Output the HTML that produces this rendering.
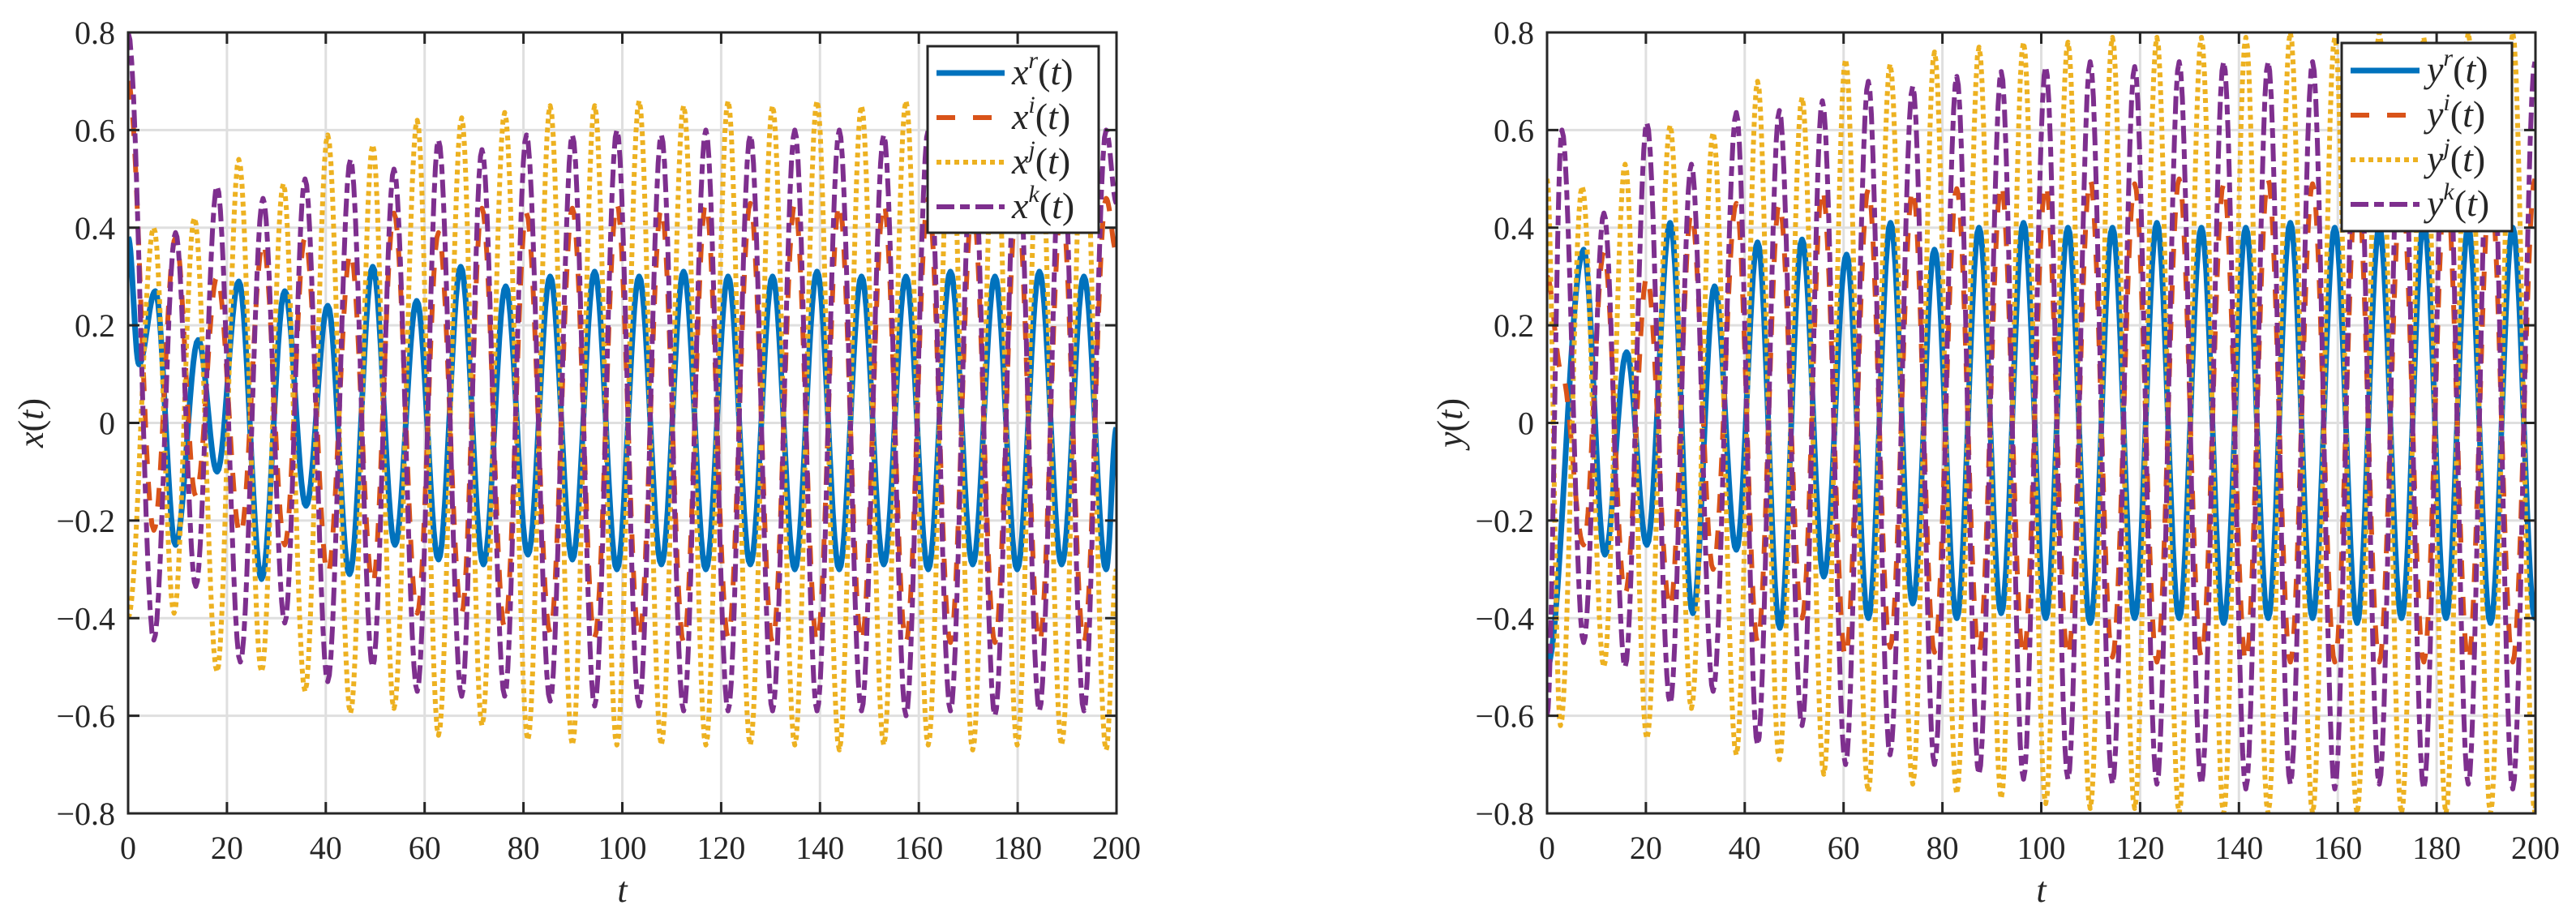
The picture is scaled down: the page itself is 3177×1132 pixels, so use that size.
<!DOCTYPE html>
<html><head><meta charset="utf-8"><style>
html,body{margin:0;padding:0;background:#fff}
svg{display:block}
text{font-family:"Liberation Serif",serif;fill:#262626}
</style></head><body>
<svg id="chart" width="3177" height="1132" viewBox="0 0 3177 1132" xmlns="http://www.w3.org/2000/svg"></svg>
<script>
// ---- data (extrema) ----
const xTicks = [0,20,40,60,80,100,120,140,160,180,200];
const yTicks = [-0.8,-0.6,-0.4,-0.2,0,0.2,0.4,0.6,0.8];
const yTickLabels = ["\u22120.8","\u22120.6","\u22120.4","\u22120.2","0","0.2","0.4","0.6","0.8"];

const xrT = [0,2.2,5.5,9.6,14.2,18,22.4,27,31.7,36,40.4,44.8,49.5,54,58.4,62.8,67.3,71.9,76.4,80.9,85.4,89.9,94.4,98.9,103.4,107.9,112.4,116.9,121.4,125.9,130.4,134.9,139.4,143.9,148.4,152.9,157.4,161.9,166.4,170.9,175.4,179.9,184.4,188.9,193.4,197.9,200];
const xrV = [0.38,0.12,0.27,-0.25,0.17,-0.10,0.29,-0.32,0.27,-0.17,0.24,-0.31,0.32,-0.25,0.25,-0.28,0.32,-0.29,0.28,-0.27,0.30,-0.28,0.31,-0.30,0.30,-0.29,0.31,-0.30,0.30,-0.29,0.30,-0.30,0.31,-0.30,0.30,-0.29,0.30,-0.30,0.31,-0.29,0.30,-0.30,0.31,-0.29,0.30,-0.30,-0.01];
const xkT = [0,5.2,9.6,13.7,18,22.7,27.3,31.7,35.8,40.4,45,49.5,53.8,58.5,62.8,67.5,71.6,76.2,80.6,85.4,89.9,94.4,98.9,103.4,107.9,112.4,116.9,121.4,125.9,130.4,134.9,139.4,143.9,148.4,152.9,157.4,161.9,166.4,170.9,175.4,179.9,184.4,188.9,193.4,197.9,200];
const xkV = [0.80,-0.445,0.39,-0.335,0.485,-0.49,0.46,-0.41,0.50,-0.53,0.54,-0.50,0.52,-0.55,0.58,-0.56,0.56,-0.56,0.59,-0.57,0.59,-0.58,0.60,-0.58,0.59,-0.59,0.60,-0.59,0.59,-0.59,0.60,-0.59,0.60,-0.59,0.59,-0.60,0.60,-0.59,0.59,-0.60,0.60,-0.59,0.60,-0.59,0.60,0.45];
const xiV = [0.70,-0.22,0.38,-0.15,0.30,-0.23,0.37,-0.25,0.38,-0.31,0.35,-0.33,0.43,-0.39,0.39,-0.39,0.44,-0.42,0.43,-0.43,0.44,-0.44,0.45,-0.44,0.44,-0.45,0.45,-0.44,0.45,-0.45,0.45,-0.45,0.45,-0.45,0.45,-0.45,0.46,-0.45,0.45,-0.45,0.46,-0.45,0.45,-0.45,0.46,0.35];
const xjT = [0,5.2,9.3,13.4,18,22.4,27,31.4,35.8,40.4,45,49.5,53.8,58.5,62.8,67.5,71.6,76.2,80.9,85.4,89.9,94.4,98.9,103.4,107.9,112.4,116.9,121.4,125.9,130.4,134.9,139.4,143.9,148.4,152.9,157.4,161.9,166.4,170.9,175.4,179.9,184.4,188.9,193.4,197.9,200];
const xjV = [-0.40,0.40,-0.39,0.42,-0.51,0.54,-0.51,0.49,-0.55,0.59,-0.595,0.57,-0.585,0.62,-0.64,0.625,-0.62,0.636,-0.65,0.65,-0.66,0.65,-0.66,0.66,-0.66,0.65,-0.66,0.66,-0.66,0.65,-0.66,0.66,-0.67,0.65,-0.66,0.66,-0.66,0.65,-0.67,0.66,-0.66,0.65,-0.66,0.66,-0.67,-0.30];

const yrT = [0,7.4,11.7,16.1,20.2,24.9,29.5,33.9,38.3,42.6,47.1,51.6,56,60.6,65,69.5,74,78.4,82.9,87.4,91.9,96.4,100.9,105.4,109.9,114.4,118.9,123.4,127.9,132.4,136.9,141.4,145.9,150.4,154.9,159.4,163.9,168.4,172.9,177.4,181.9,186.4,190.9,195.4,199.9,200];
const yrV = [-0.50,0.355,-0.27,0.145,-0.25,0.41,-0.39,0.28,-0.26,0.37,-0.42,0.376,-0.315,0.345,-0.40,0.41,-0.37,0.355,-0.40,0.40,-0.39,0.41,-0.40,0.40,-0.41,0.40,-0.40,0.41,-0.40,0.40,-0.41,0.40,-0.40,0.41,-0.40,0.40,-0.41,0.40,-0.40,0.41,-0.40,0.40,-0.41,0.40,-0.40,-0.40];
const ykT = [0,3,7.4,11.5,15.8,20.2,24.9,29.2,33.6,38.3,42.6,47,51.6,55.7,60.4,65,69.4,74,78.4,82.9,87.4,91.9,96.4,100.9,105.4,109.9,114.4,118.9,123.4,127.9,132.4,136.9,141.4,145.9,150.4,154.9,159.4,163.9,168.4,172.9,177.4,181.9,186.4,190.9,195.4,199.9];
const ykV = [-0.60,0.60,-0.45,0.43,-0.50,0.615,-0.575,0.53,-0.55,0.636,-0.66,0.64,-0.62,0.66,-0.70,0.70,-0.68,0.69,-0.70,0.71,-0.72,0.72,-0.73,0.73,-0.73,0.74,-0.74,0.73,-0.74,0.74,-0.74,0.74,-0.75,0.74,-0.74,0.74,-0.75,0.74,-0.74,0.75,-0.75,0.74,-0.74,0.74,-0.75,0.74];
const yiV = [0.30,0.10,-0.25,0.35,-0.35,0.30,-0.38,0.43,-0.30,0.45,-0.45,0.45,-0.40,0.48,-0.48,0.48,-0.46,0.48,-0.47,0.48,-0.47,0.49,-0.48,0.49,-0.48,0.50,-0.48,0.49,-0.49,0.50,-0.48,0.49,-0.49,0.50,-0.49,0.49,-0.49,0.50,-0.49,0.49,-0.49,0.50,-0.49,0.49,-0.49,0.50];
const yjT = [0,2.7,7.1,11.5,15.8,20.2,24.9,29.2,33.6,38.3,42.6,47,51.6,56,60.4,65,69.4,74,78.4,82.9,87.4,91.9,96.4,100.9,105.4,109.9,114.4,118.9,123.4,127.9,132.4,136.9,141.4,145.9,150.4,154.9,159.4,163.9,168.4,172.9,177.4,181.9,186.4,190.9,195.4,199.9,200];
const yjV = [0.50,-0.62,0.485,-0.50,0.53,-0.647,0.61,-0.585,0.595,-0.68,0.70,-0.69,0.667,-0.72,0.745,-0.756,0.735,-0.74,0.76,-0.76,0.77,-0.77,0.78,-0.78,0.78,-0.79,0.79,-0.79,0.79,-0.80,0.79,-0.80,0.79,-0.80,0.80,-0.80,0.79,-0.80,0.80,-0.80,0.79,-0.80,0.80,-0.80,0.80,-0.80,-0.78];

// ---- rendering ----
const NS = "http://www.w3.org/2000/svg";
const svg = document.getElementById('chart');
function mk(tag, attrs, parent){const e=document.createElementNS(NS,tag);for(const k in attrs)e.setAttribute(k,attrs[k]);(parent||svg).appendChild(e);return e;}

const COLORS = {r:"#0072BD", i:"#D95319", j:"#EDB120", k:"#7E2F8E"};
const DASH = {r:"", i:"23,22", j:"6,5", k:"22,7,12,7"};
const WIDTH = {r:7, i:6, j:6, k:6};

function drawPlot(id, x0, x1, y0, y1, series, letter, legendBox, legendLineX, legendText, legendYs){
  const xs = t => x0 + (t-0)/(200-0)*(x1-x0);
  const ys = v => y1 - (v+0.8)/1.6*(y1-y0);
  const g = mk('g', {});
  
  
  const clipId = id+'-clip';
  const cp = mk('clipPath', {id:clipId}, g);
  mk('rect', {x:x0, y:y0, width:x1-x0, height:y1-y0}, cp);
  // grid
  xTicks.forEach(t => {
    const l = mk('line', {x1:xs(t), x2:xs(t), y1:y0, y2:y1, stroke:'#dfdfdf', 'stroke-width':3}, g);
    
    
  });
  yTicks.forEach(v => {
    const l = mk('line', {x1:x0, x2:x1, y1:ys(v), y2:ys(v), stroke:'#dfdfdf', 'stroke-width':3}, g);
    
    
  });
  // series
  const sg = mk('g', {'clip-path':'url(#'+clipId+')'}, g);
  series.forEach(s => {
    let d = '';
    for (let n=0; n<s.t.length-1; n++){
      const ta=s.t[n], tb=s.t[n+1], va=s.v[n], vb=s.v[n+1];
      const steps = 14;
      for (let k=(n===0?0:1); k<=steps; k++){
        const f = k/steps;
        const w = (1-Math.cos(Math.PI*f))/2;
        const t = ta + (tb-ta)*f, v = va + (vb-va)*w;
        d += (d===''?'M':'L') + xs(t).toFixed(1) + ',' + ys(v).toFixed(1);
      }
    }
    const p = mk('path', {d:d, fill:'none', stroke:COLORS[s.key], 'stroke-width':WIDTH[s.key], 'stroke-dasharray':DASH[s.key]||'none', 'stroke-linejoin':'round'}, sg);
    
    
  });
  // axes box
  const box = mk('rect', {x:x0, y:y0, width:x1-x0, height:y1-y0, fill:'none', stroke:'#262626', 'stroke-width':3}, g);
  
  
  // ticks & labels
  xTicks.forEach(t => {
    mk('line', {x1:xs(t), x2:xs(t), y1:y1, y2:y1-14, stroke:'#262626', 'stroke-width':3}, g);
    mk('line', {x1:xs(t), x2:xs(t), y1:y0, y2:y0+14, stroke:'#262626', 'stroke-width':3}, g);
    const tx = mk('text', {x:xs(t), y:y1+56, 'font-size':40, 'text-anchor':'middle'}, g);
    tx.textContent = t;
    
    
  });
  yTicks.forEach((v,i) => {
    mk('line', {x1:x0, x2:x0+14, y1:ys(v), y2:ys(v), stroke:'#262626', 'stroke-width':3}, g);
    mk('line', {x1:x1, x2:x1-14, y1:ys(v), y2:ys(v), stroke:'#262626', 'stroke-width':3}, g);
    const tx = mk('text', {x:x0-16, y:ys(v)+14, 'font-size':40, 'text-anchor':'end'}, g);
    tx.textContent = yTickLabels[i];
    
    
  });
  // axis titles
  const xt = mk('text', {x:(x0+x1)/2, y:1112, 'font-size':44, 'font-style':'italic', 'text-anchor':'middle'}, g);
  xt.textContent = 't';
  
  
  const yt = mk('text', {x:0, y:0, 'font-size':44, 'text-anchor':'middle', transform:'translate('+(x0-105)+','+((y0+y1)/2)+') rotate(-90)'}, g);
  yt.innerHTML = '<tspan font-style="italic">'+letter+'</tspan>(<tspan font-style="italic">t</tspan>)';
  
  
  // legend
  const lg = mk('g', {}, g);
  
  
  mk('rect', {x:legendBox[0], y:legendBox[1], width:legendBox[2]-legendBox[0], height:legendBox[3]-legendBox[1], fill:'#fff', stroke:'#262626', 'stroke-width':3}, lg);
  ['r','i','j','k'].forEach((key,n) => {
    const e = mk('g', {}, lg);
    
    
    mk('line', {x1:legendLineX[0], x2:legendLineX[1], y1:legendYs[n], y2:legendYs[n], stroke:COLORS[key], 'stroke-width':WIDTH[key], 'stroke-dasharray':DASH[key]||'none'}, e);
    const tx = mk('text', {x:legendText, y:legendYs[n]+14, 'font-size':46}, e);
    tx.innerHTML = '<tspan font-style="italic">'+letter+'</tspan><tspan font-style="italic" font-size="30" dy="-20">'+key+'</tspan><tspan dy="20">(</tspan><tspan font-style="italic">t</tspan>)';
  });
}

drawPlot('left', 158, 1377, 40, 1003, [
  {key:'r', t:xrT, v:xrV},
  {key:'i', t:xkT, v:xiV},
  {key:'j', t:xjT, v:xjV},
  {key:'k', t:xkT, v:xkV}
], 'x', [1144,57,1355,287], [1155,1239], 1248, [90,145,200,255]);

drawPlot('right', 1908, 3127, 40, 1003, [
  {key:'r', t:yrT, v:yrV},
  {key:'i', t:ykT, v:yiV},
  {key:'j', t:yjT, v:yjV},
  {key:'k', t:ykT, v:ykV}
], 'y', [2888,53,3098,285], [2899,2984], 2993, [87,142,197,252]);
</script>
</body></html>
